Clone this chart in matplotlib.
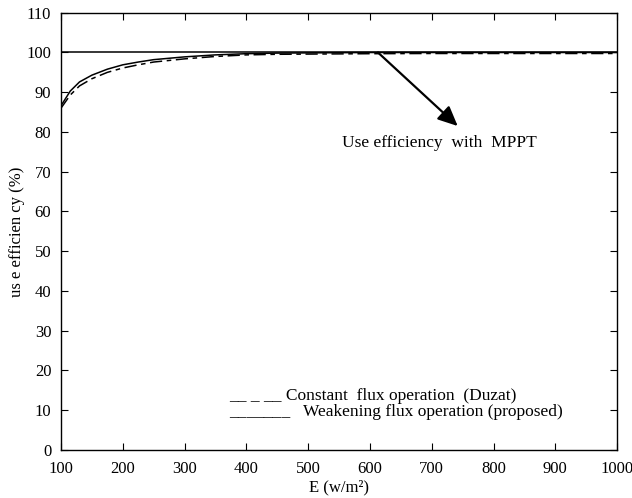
import numpy as np
import matplotlib
matplotlib.use('Agg')
import matplotlib.pyplot as plt

plt.rcParams['font.family'] = ['Liberation Serif', 'DejaVu Serif']

# irradiance (W/m2) and use efficiency (%)
E = [100, 115, 130, 150, 175, 200, 225, 250, 300, 350, 400, 450, 500, 600, 700, 800, 900, 1000]
eff_weak = [86.6, 90.3, 92.6, 94.3, 95.8, 96.9, 97.6, 98.2, 98.9, 99.4, 99.7, 99.85, 99.9, 100, 100, 100, 100, 100]
eff_const = [86.0, 89.3, 91.6, 93.4, 95.0, 96.1, 96.9, 97.6, 98.4, 99.0, 99.4, 99.55, 99.6, 99.7, 99.75, 99.75, 99.75, 99.75]
E_mppt = [100, 1000]
eff_mppt = [100, 100]

fig = plt.figure(figsize=(6.32, 4.98), dpi=100)
ax = fig.add_axes([0.0965, 0.0964, 0.880, 0.878])

ax.plot(E_mppt, eff_mppt, color='black', lw=1.1)
ax.plot(E, eff_weak, color='black', lw=1.1)
ax.plot(E, eff_const, color='black', lw=1.1, ls=(0, (8, 3, 3, 3)))

ax.annotate('', xy=(742, 81.5), xytext=(613, 100),
            arrowprops=dict(arrowstyle='-|>,head_length=1.2,head_width=0.55',
                            color='black', lw=1.6, shrinkA=0, shrinkB=0))
ax.text(713, 77.3, 'Use efficiency  with  MPPT', ha='center', va='center', fontsize=12.5)

ax.text(372, 13.6, '__ _ __ Constant  flux operation  (Duzat)', ha='left', va='center', fontsize=12.5)
ax.text(372, 9.6, '_______   Weakening flux operation (proposed)', ha='left', va='center', fontsize=12.5)

ax.set_xlim(100, 1000)
ax.set_ylim(0, 110)
ax.set_xticks(np.arange(100, 1001, 100))
ax.set_yticks(np.arange(0, 111, 10))
ax.tick_params(direction='in', top=True, right=True, labelsize=12, length=5)
ax.tick_params(axis='x', pad=8)
ax.tick_params(axis='y', pad=7)
ax.set_xlabel('E (w/m²)', fontsize=12, labelpad=2)
ax.set_ylabel('us e efficien cy (%)', fontsize=12, labelpad=1)
for s in ax.spines.values():
    s.set_linewidth(1.0)

fig.savefig('out.png', dpi=100)
